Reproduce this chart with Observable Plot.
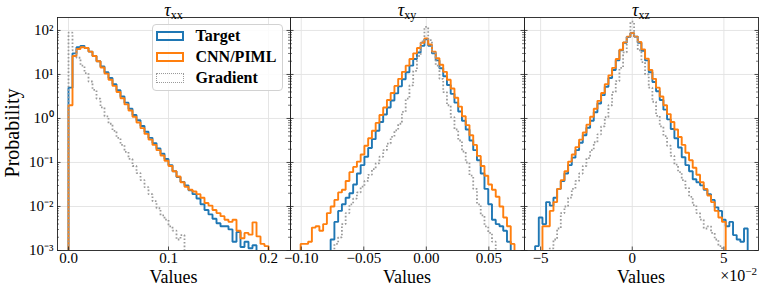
<!DOCTYPE html>
<html>
<head>
<meta charset="utf-8">
<script src="https://cdn.jsdelivr.net/npm/d3@7"></script>
<script src="https://cdn.jsdelivr.net/npm/@observablehq/plot@0.6"></script>
<style>
  body { margin: 0; background: #fff; }
  #wrap { position: relative; width: 760px; height: 286px; overflow: hidden;
          font-family: "Liberation Serif", "Times New Roman", serif; color: #000; }
  #wrap svg { position: absolute; left: 0; top: 0; }
  .lbl { position: absolute; white-space: nowrap; line-height: 1; }
  .leg-patch { position: absolute; left: 3.5px; width: 28px; height: 10px; box-sizing: border-box; }
  .leg-text { position: absolute; left: 43px; font-weight: bold; font-size: 16px; line-height: 16px; }
</style>
</head>
<body>
<div id="wrap"></div>
<script>
// ---------------- data (log10 of probability per histogram bin) ----------------
const seriesNames = ["Target", "CNN/PIML", "Gradient"];

const yTicks = [1e-3, 1e-2, 1e-1, 1, 10, 100];
const yTickLabels = ["10⁻³", "10⁻²", "10⁻¹", "10⁰", "10¹", "10²"];

// tau_xx
const xxTicks = [0, 0.1, 0.2];
const xxTickLabels = ["0.0", "0.1", "0.2"];
const xxBinWidth = 0.004;
const xxStarts = [0, 0, 0];
const xxTarget = [0.7, 1.48, 1.62, 1.65, 1.6, 1.52, 1.42, 1.3, 1.18, 1.05,
  0.92, 0.78, 0.64, 0.5, 0.36, 0.22, 0.08, -0.04, -0.17, -0.3,
  -0.44, -0.56, -0.68, -0.8, -0.92, -1.06, -1.2, -1.33, -1.44, -1.52,
  -1.63, -1.72, -1.82, -1.95, -2.08, -2.18, -2.28, -2.38, -2.45, -2.45,
  -2.52, -2.8, -2.58, -2.92, -2.8, -2.95, -2.88];
const xxCnn = [0.3, 1.42, 1.58, 1.62, 1.6, 1.52, 1.42, 1.3, 1.16, 1.02,
  0.88, 0.74, 0.6, 0.46, 0.32, 0.18, 0.04, -0.09, -0.22, -0.35,
  -0.48, -0.6, -0.72, -0.84, -0.96, -1.08, -1.2, -1.32, -1.45, -1.55,
  -1.62, -1.66, -1.72, -1.8, -1.92, -1.98, -2.08, -2.15, -2.22, -2.3,
  -2.35, -2.3, -2.55, -2.72, -2.6, -2.64, -2.36, -2.68, -2.85, -2.9];
const xxGrad = [1.95, 1.55, 1.38, 1.2, 1.03, 0.84, 0.65, 0.45, 0.25, 0.05,
  -0.12, -0.28, -0.44, -0.6, -0.76, -0.92, -1.08, -1.24, -1.4, -1.56,
  -1.72, -1.88, -2.04, -2.2, -2.3, -2.45, -2.55, -2.75, -2.65];

// tau_xy
const xyTicks = [-0.1, -0.05, 0, 0.05];
const xyTickLabels = ["−0.10", "−0.05", "0.00", "0.05"];
const xyBinWidth = 0.003;
const xyStarts = [-0.0765, -0.1005, -0.0735];
const xyTarget = [-2.75, -2.35, -2.1, -1.95, -1.8, -1.7, -1.5, -1.25, -1.06, -0.87,
  -0.67, -0.47, -0.28, -0.08, 0.09, 0.25, 0.41, 0.57, 0.73, 0.89,
  1.05, 1.2, 1.35, 1.5, 1.65, 1.8,
  1.65, 1.48, 1.32, 1.14, 0.96, 0.76, 0.56, 0.36, 0.16, -0.05,
  -0.25, -0.5, -0.72, -0.95, -1.25, -1.6, -1.95, -2.3, -2.4, -2.45,
  -2.55, -2.8];
const xyCnn = [-2.85, -2.85, -2.8, -2.48, -2.45, -2.55, -2.4, -2.15, -2.0, -1.85,
  -1.68, -1.62, -1.42, -1.22, -1.1, -0.98, -0.82, -0.62, -0.45, -0.28,
  -0.1, 0.08, 0.25, 0.42, 0.58, 0.74, 0.9, 1.06, 1.2, 1.35,
  1.48, 1.6, 1.72, 1.82,
  1.68, 1.52, 1.37, 1.22, 1.06, 0.88, 0.68, 0.47, 0.27, 0.05,
  -0.15, -0.38, -0.6, -0.85, -1.08, -1.3, -1.5, -1.62, -1.78, -2.0,
  -2.25, -2.45, -2.85];
const xyGrad = [-2.85, -2.7, -2.4, -2.15, -1.95, -1.82, -1.68, -1.55, -1.42, -1.28,
  -1.15, -1.02, -0.87, -0.72, -0.57, -0.42, -0.27, -0.12, 0.15, 0.45,
  0.75, 1.08, 1.42, 1.75, 2.08,
  1.78, 1.5, 1.2, 0.9, 0.6, 0.3, 0.03, -0.25, -0.5, -0.75,
  -1.0, -1.3, -1.6, -1.95, -2.2, -2.45, -2.6, -2.8];

// tau_xz (x in units of 1e-2)
const xzTicks = [-5, 0, 5];
const xzTickLabels = ["−5", "0", "5"];
const xzBinWidth = 0.2;
const xzStarts = [-5.3, -4.9, -4.5];
const xzTarget = [-2.9, -2.25, -2.4, -1.9, -1.98, -1.8, -1.6, -1.42, -1.25, -1.06,
  -0.89, -0.72, -0.55, -0.38, -0.21, -0.05, 0.14, 0.34, 0.53, 0.72,
  0.92, 1.1, 1.32, 1.55, 1.72, 1.85, 1.94,
  1.86, 1.72, 1.54, 1.32, 1.05, 0.83, 0.62, 0.42, 0.2, -0.02,
  -0.24, -0.45, -0.66, -0.88, -1.06, -1.2, -1.38, -1.45, -1.52, -1.62,
  -1.72, -1.85, -2.02, -2.1, -2.3, -2.45, -2.35, -2.65, -2.75, -2.8,
  -2.5];
const xzCnn = [-2.45, -2.45, -2.1, -1.9, -1.6, -1.4, -1.2, -0.98, -0.82, -0.65,
  -0.48, -0.32, -0.14, 0.04, 0.22, 0.4, 0.58, 0.78, 0.98, 1.15,
  1.35, 1.56, 1.73, 1.86, 1.94,
  1.86, 1.74, 1.57, 1.36, 1.1, 0.9, 0.7, 0.5, 0.3, 0.1,
  -0.08, -0.25, -0.42, -0.6, -0.78, -0.95, -1.12, -1.28, -1.45, -1.6,
  -1.75, -1.9, -2.1, -2.25, -2.35];
const xzGrad = [-2.95, -2.75, -2.5, -2.15, -2.0, -1.8, -1.6, -1.42, -1.25, -1.08,
  -0.9, -0.72, -0.54, -0.36, -0.18, 0.03, 0.3, 0.6, 0.85, 1.15,
  1.5, 1.85, 2.2,
  1.85, 1.55, 1.28, 1.0, 0.7, 0.38, 0.06, -0.18, -0.4, -0.62,
  -0.85, -1.05, -1.22, -1.4, -1.58, -1.78, -1.97, -2.15, -2.3, -2.5,
  -2.45, -2.6, -2.75, -2.9];

// ---------------- layout / style ----------------
const W = 760, H = 286, TOP = 17, BOTTOM = 250;
const FONT = '"Liberation Serif", "Times New Roman", serif';
const colors = ["#1f77b4", "#ff7f0e", "#9a9a9a"];
const gridColor = "#e2e2e2";
const spineColor = "#222";
const FLOOR = 1e-6;

const panels = [
  { sub: "xx", left: 57, right: 290, xDomain: [-0.011, 0.222], ticks: xxTicks, tickLabels: xxTickLabels,
    binWidth: xxBinWidth, starts: xxStarts, data: [xxTarget, xxCnn, xxGrad] },
  { sub: "xy", left: 290, right: 524, xDomain: [-0.1086, 0.0785], ticks: xyTicks, tickLabels: xyTickLabels,
    binWidth: xyBinWidth, starts: xyStarts, data: [xyTarget, xyCnn, xyGrad] },
  { sub: "xz", left: 524, right: 758, xDomain: [-5.88, 6.89], ticks: xzTicks, tickLabels: xzTickLabels,
    binWidth: xzBinWidth, starts: xzStarts, data: [xzTarget, xzCnn, xzGrad] }
];

const minorY = [];
for (let k = -3; k <= 1; k++) for (let m = 2; m <= 9; m++) minorY.push(m * Math.pow(10, k));

function steps(start, width, logs) {
  const pts = [{ x: start, y: FLOOR }];
  logs.forEach((l, i) => {
    const v = Math.pow(10, l);
    pts.push({ x: start + i * width, y: v }, { x: start + (i + 1) * width, y: v });
  });
  pts.push({ x: start + logs.length * width, y: FLOOR });
  return pts;
}

const wrap = document.getElementById("wrap");

panels.forEach((p, pi) => {
  const fw = p.right - p.left, fh = BOTTOM - TOP;
  const lines = p.data.map((logs, si) => Plot.line(steps(p.starts[si], p.binWidth, logs), {
    x: "x", y: "y", stroke: colors[si],
    strokeWidth: si === 2 ? 1.8 : 1.9,
    strokeDasharray: si === 2 ? "1.6,2" : null,
    strokeLinejoin: "miter", strokeLinecap: "butt", clip: true
  }));
  const marks = [
    Plot.ruleY(yTicks, { stroke: gridColor, strokeWidth: 0.9 }),
    Plot.ruleX(p.ticks, { stroke: gridColor, strokeWidth: 0.9 }),
    ...lines,
    Plot.tickY(yTicks, { insetRight: fw - 3.5, stroke: spineColor, strokeWidth: 0.8 }),
    Plot.tickY(yTicks, { insetLeft: fw - 3.5, stroke: spineColor, strokeWidth: 0.8 }),
    Plot.tickY(minorY, { insetRight: fw - 2, stroke: spineColor, strokeWidth: 0.6 }),
    Plot.tickY(minorY, { insetLeft: fw - 2, stroke: spineColor, strokeWidth: 0.6 }),
    Plot.tickX(p.ticks, { insetTop: fh - 3.5, stroke: spineColor, strokeWidth: 0.8 }),
    Plot.axisX(p.ticks, { tickSize: 0, tickPadding: 2, fontSize: 15, label: null,
      tickFormat: d => p.tickLabels[p.ticks.indexOf(d)] }),
    Plot.frame({ stroke: spineColor, strokeWidth: 0.9 })
  ];
  if (pi === 0) {
    marks.push(Plot.axisY(yTicks, { tickSize: 0, tickPadding: 4, fontSize: 15, label: null,
      tickFormat: d => yTickLabels[yTicks.indexOf(d)] }));
  }
  const svg = Plot.plot({
    width: W, height: H,
    marginLeft: p.left, marginRight: W - p.right, marginTop: TOP, marginBottom: H - BOTTOM,
    x: { domain: p.xDomain },
    y: { type: "log", domain: [1e-3, 197], axis: pi === 0 ? undefined : null },
    style: { background: "transparent", fontFamily: FONT, fontSize: "15px", color: "#000", overflow: "visible" },
    marks
  });
  wrap.appendChild(svg);

  const cx = (p.left + p.right) / 2;
  const title = document.createElement("div");
  title.className = "lbl";
  title.style.cssText = `left:${cx}px;top:1px;font-size:18px;transform:translateX(-50%);`;
  title.innerHTML = `<i>τ</i><span style="font-size:12px;position:relative;top:3px;">${p.sub}</span>`;
  wrap.appendChild(title);

  const xl = document.createElement("div");
  xl.className = "lbl";
  xl.style.cssText = `left:${cx}px;top:268px;font-size:18px;transform:translateX(-50%);`;
  xl.textContent = "Values";
  wrap.appendChild(xl);
});

// y label
const yl = document.createElement("div");
yl.className = "lbl";
yl.style.cssText = "left:12px;top:133px;font-size:20px;transform:translate(-50%,-50%) rotate(-90deg);";
yl.textContent = "Probability";
wrap.appendChild(yl);

// offset label of third panel
const off = document.createElement("div");
off.className = "lbl";
off.style.cssText = "right:3px;top:268px;font-size:16px;";
off.innerHTML = `×10<span style="font-size:11px;position:relative;top:-6px;">−2</span>`;
wrap.appendChild(off);

// legend
const leg = document.createElement("div");
leg.style.cssText = "position:absolute;left:151.5px;top:24px;width:131.5px;height:66.5px;border:1px solid #d2d2d2;border-radius:4px;background:rgba(255,255,255,0.85);box-sizing:border-box;";
const centers = [10.5, 31.5, 52.5];
seriesNames.forEach((name, i) => {
  const patch = document.createElement("div");
  patch.className = "leg-patch";
  patch.style.top = (centers[i] - 5) + "px";
  patch.style.border = i === 2 ? `1.8px dotted ${colors[2]}` : `2px solid ${colors[i]}`;
  leg.appendChild(patch);
  const t = document.createElement("div");
  t.className = "leg-text";
  t.style.top = (centers[i] - 8) + "px";
  t.textContent = name;
  leg.appendChild(t);
});
wrap.appendChild(leg);
</script>
</body>
</html>
